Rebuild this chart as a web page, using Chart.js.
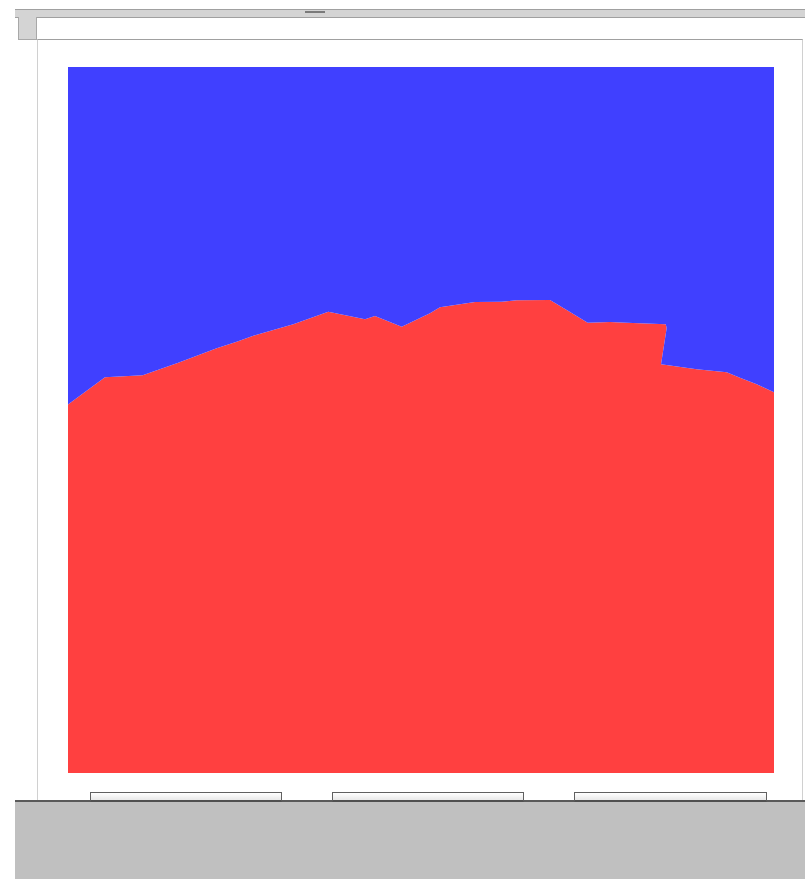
<!DOCTYPE html>
<html>
<head>
<meta charset="utf-8">
<script src="https://cdn.jsdelivr.net/npm/chart.js@4/dist/chart.umd.min.js"></script>
<style>
  body { margin: 0; background: #fff; width: 805px; height: 879px; overflow: hidden; position: relative; }
  .abs { position: absolute; box-sizing: border-box; }
  #topbar { left: 15px; top: 9px; width: 790px; height: 9px; background: #d4d4d4; border-top: 1px solid #a0a0a0; border-bottom: 1px solid #a0a0a0; }
  #grip { left: 305px; top: 11px; width: 20px; height: 2px; background: #7a7a7a; }
  #corner { left: 18px; top: 17px; width: 19px; height: 23px; background: #d4d4d4; border: 1px solid #a8a8a8; border-top: none; }
  #panel { left: 37px; top: 39px; width: 766px; height: 763px; border-top: 1px solid #a0a0a0; border-left: 1px solid #d0d0d0; border-right: 1px solid #d0d0d0; }
  #floor { left: 15px; top: 800px; width: 790px; height: 79px; background: #c0c0c0; border-top: 2px solid #5a5a5a; }
  .tab { top: 792px; height: 10px; background: linear-gradient(#fff, #e8e8e8); border: 1px solid #606060; border-bottom: 2px solid #505050; }
  #wrap { left: 68px; top: 67px; width: 706px; height: 706px; }
</style>
</head>
<body>
<div class="abs" id="topbar"></div>
<div class="abs" id="grip"></div>
<div class="abs" id="corner"></div>
<div class="abs" id="panel"></div>
<div class="abs" id="floor"></div>
<div class="abs tab" style="left:90px;width:192px"></div>
<div class="abs tab" style="left:332px;width:192px"></div>
<div class="abs tab" style="left:574px;width:193px"></div>
<div class="abs" id="wrap"><canvas id="areaChart"></canvas></div>
<script>
// boundary between the two areas (x and y in percent of the plot)
const xValues = [0, 5.24, 10.58, 15.62, 21.06, 23.9, 26.25, 31.91, 36.87, 42.07, 43.48, 47.27,
    51.27, 52.69, 57.65, 61.43, 63.56, 68.27, 70.64, 73.61, 76.77, 79.14, 84.66, 84.8,
    84.0, 89.05, 93.3, 95.18, 97.55, 100];
const yValues = [52.2, 56.05, 56.33, 58.12, 60.16, 61.09, 61.94, 63.55, 65.34, 64.26, 64.73, 63.22,
    65.11, 65.96, 66.71, 66.76, 66.96, 67.0, 65.58, 63.78, 63.88, 63.78, 63.55, 63.03,
    57.89, 57.18, 56.76, 55.99, 55.06, 53.92];

const points = xValues.map((x, i) => ({ x: x, y: yValues[i] }));

const canvas = document.getElementById('areaChart');
new Chart(canvas, {
    type: 'line',
    data: {
        datasets: [{
            label: 'top',
            data: points,
            borderWidth: 0,
            pointRadius: 0,
            backgroundColor: '#4040ff',
            fill: 'end'
        }, {
            label: 'bottom',
            data: points,
            borderWidth: 0,
            pointRadius: 0,
            backgroundColor: '#ff4040',
            fill: 'start'
        }]
    },
    options: {
        responsive: true,
        maintainAspectRatio: false,
        animation: false,
        layout: { padding: 0 },
        plugins: {
            legend: { display: false },
            tooltip: { enabled: false }
        },
        scales: {
            x: { type: 'linear', min: 0, max: 100, display: false },
            y: { type: 'linear', min: 0, max: 100, display: false }
        }
    }
});
</script>
</body>
</html>
